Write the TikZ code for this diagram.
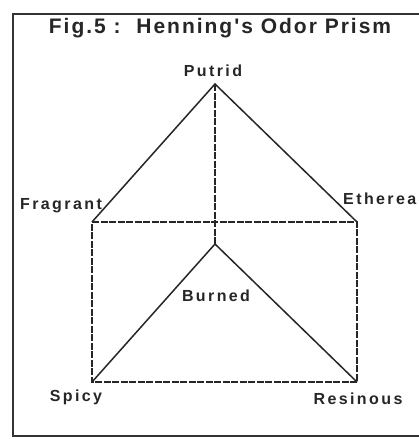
\documentclass[tikz,border=0pt]{standalone}
\usepackage{fontspec}
\newfontfamily\lf{Liberation Sans}
\begin{document}
\begin{tikzpicture}[x=1pt,y=-1pt,
  lbl/.style={font=\lf\fontsize{16}{16}\selectfont\bfseries\addfontfeature{LetterSpace=15}, text=black!85, inner sep=0pt},
  edge/.style={line width=1.5pt, black!85},
  dline/.style={line width=1.5pt, black!85, dash pattern=on 7pt off 1.5pt}]
\useasboundingbox (0,0) rectangle (419,439);
\clip (0,0) rectangle (419,439);
\fill[white] (0,0) rectangle (419,439);
\draw[line width=1.8pt, black!80] (13,14) rectangle (440,436);
\node[font=\lf\fontsize{21}{21}\selectfont\bfseries\addfontfeature{LetterSpace=9.5}, text=black!85, inner sep=0pt] (title) at (220,28) {Fig.5 :\ \ Henning's Odor Prism};
\coordinate (P) at (215,84);
\coordinate (F) at (92,222);
\coordinate (E) at (357,222);
\coordinate (B) at (215,244);
\coordinate (S) at (92,382);
\coordinate (R) at (357,382);
\draw[dline] (P) -- (B);
\draw[dline] (F) -- (E) -- (R) -- (S) -- cycle;
\draw[edge] (F) -- (P) -- (E);
\draw[edge] (S) -- (B) -- (R);
\node[lbl] (lp) at (213,71) {Putrid};
\node[lbl] (lf) at (61,206) {Fragrant};
\node[lbl, anchor=west] (le) at (343,199) {Etherea};
\node[lbl] (lb) at (216,296) {Burned};
\node[lbl] (ls) at (76,397) {Spicy};
\node[lbl] (lr) at (358,399) {Resinous};
\end{tikzpicture}
\end{document}
